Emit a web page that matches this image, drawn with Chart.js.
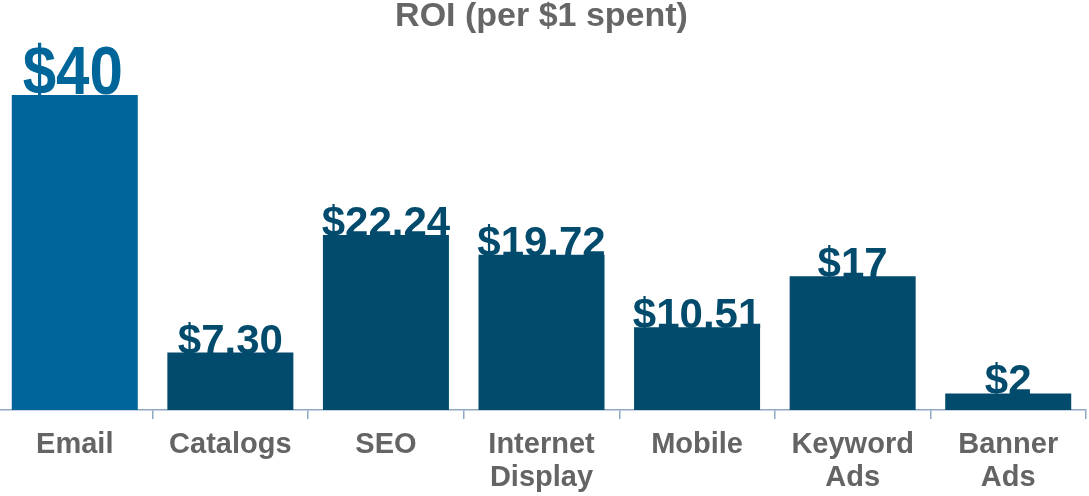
<!DOCTYPE html>
<html>
<head>
<meta charset="utf-8">
<script src="https://cdn.jsdelivr.net/npm/chart.js@4.4.1/dist/chart.umd.min.js"></script>
<style>
    html, body { margin: 0; padding: 0; background: #fff; overflow: hidden; }
    #wrap { position: absolute; left: -3px; top: 0; }
</style>
</head>
<body>
<div id="wrap"><canvas id="roiChart" width="1092" height="496"></canvas></div>
<script>
const categories = [['Email'], ['Catalogs'], ['SEO'], ['Internet', 'Display'], ['Mobile'], ['Keyword', 'Ads'], ['Banner', 'Ads']];
const roiValues = [40, 7.30, 22.24, 19.72, 10.51, 17, 2.1];
const valueLabels = ['$40', '$7.30', '$22.24', '$19.72', '$10.51', '$17', '$2'];
const barColors = ['#00659A', '#024B6D', '#024B6D', '#024B6D', '#024B6D', '#024B6D', '#024B6D'];

const FONT = '"Liberation Sans", Arial, sans-serif';

// draws the value on top of each bar, a bit overlapping the bar top
const valueLabelPlugin = {
    id: 'valueLabels',
    afterDatasetsDraw(chart) {
        const ctx = chart.ctx;
        const bars = chart.getDatasetMeta(0).data;
        bars.forEach((bar, i) => {
            ctx.save();
            ctx.textAlign = 'center';
            ctx.textBaseline = 'alphabetic';
            if (i === 0) {
                // the big Email label is set in a narrower, larger type
                ctx.fillStyle = '#00669A';
                ctx.font = 'bold 69px ' + FONT;
                ctx.translate(bar.x - 2, bar.y - 1);
                ctx.scale(0.87, 1);
                ctx.fillText(valueLabels[i], 0, 0);
            } else {
                ctx.fillStyle = '#024B6D';
                ctx.font = 'bold 42px ' + FONT;
                ctx.fillText(valueLabels[i], bar.x, bar.y + 1);
            }
            ctx.restore();
        });
    }
};

const ctx = document.getElementById('roiChart').getContext('2d');

new Chart(ctx, {
    type: 'bar',
    data: {
        labels: categories,
        datasets: [{
            label: 'ROI',
            data: roiValues,
            backgroundColor: barColors,
            borderWidth: 0,
            categoryPercentage: 0.9,
            barPercentage: 0.9
        }]
    },
    options: {
        responsive: false,
        animation: false,
        layout: {
            padding: { left: 0, right: 3, top: 0, bottom: 0 }
        },
        plugins: {
            legend: { display: false },
            tooltip: { enabled: false },
            title: {
                display: true,
                text: 'ROI (per $1 spent)',
                color: '#666666',
                font: { family: FONT, size: 34, weight: 'bold', lineHeight: 1 },
                padding: { top: 0, bottom: 6 }
            }
        },
        scales: {
            x: {
                grid: {
                    display: true,
                    drawOnChartArea: false,
                    drawTicks: true,
                    tickLength: 9,
                    color: '#8FA8C4',
                    lineWidth: 1.5,
                    offset: true
                },
                border: { display: true, color: '#8FA8C4', width: 1.5 },
                ticks: {
                    color: '#646464',
                    padding: 10,
                    maxRotation: 0,
                    autoSkip: false,
                    font: { family: FONT, size: 29, weight: 'bold', lineHeight: 1.12 }
                },
                afterFit(scale) {
                    scale.height = 86;
                }
            },
            y: {
                display: false,
                min: 0,
                max: 47
            }
        }
    },
    plugins: [valueLabelPlugin]
});
</script>
</body>
</html>
